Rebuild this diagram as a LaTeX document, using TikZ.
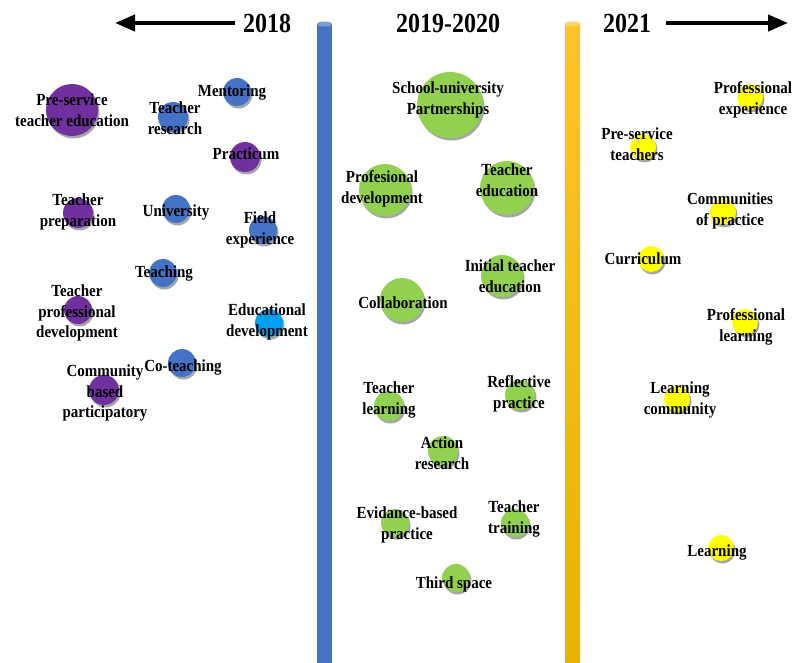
\documentclass[tikz,border=0pt]{standalone}
\usepackage{fontspec}
\usepackage{graphicx}
\setmainfont{Liberation Serif}
\usetikzlibrary{arrows.meta,shadows}
\definecolor{cpurple}{RGB}{112,48,160}
\definecolor{cblue}{RGB}{68,114,196}
\definecolor{clblue}{RGB}{0,160,240}
\definecolor{cgreen}{RGB}{146,208,80}
\definecolor{cyellow}{RGB}{255,255,0}
\definecolor{cbarblue}{RGB}{68,114,196}
\definecolor{cbaryeltop}{RGB}{255,196,40}
\definecolor{cbaryelbot}{RGB}{230,180,0}
\newcommand\labfont{\bfseries\fontsize{15}{18.3}\selectfont}
\newcommand\hdrfont{\bfseries\fontsize{24}{28}\selectfont}
\newcommand\stxt[1]{\scalebox{1}[1.13]{\begin{tabular}{@{}c@{}}#1\end{tabular}}}
\begin{document}
\begin{tikzpicture}[x=1pt,y=-1pt,
  bub/.style={circle,inner sep=0pt,minimum size=#1,
    drop shadow={shadow xshift=1.5pt,shadow yshift=-2.5pt,opacity=0.35,fill=black}},
  pur/.style={bub=#1,fill=cpurple},
  blu/.style={bub=#1,fill=cblue},
  lbl/.style={bub=#1,fill=clblue},
  grn/.style={bub=#1,fill=cgreen},
  yel/.style={bub=#1,fill=cyellow},
  lab/.style={font=\labfont,inner sep=0pt,text=black,yshift=-2pt},
  hdr/.style={font=\hdrfont,inner sep=0pt},
  arr/.style={line width=4pt,-{Triangle[length=20pt,width=16pt]}}]
\fill[white] (0,0) rectangle (798,663);
% bars
\fill[cbarblue] (317,24) rectangle (332,663);
\fill[cbarblue!70!white] (324.5,24) ellipse [x radius=7.5pt, y radius=2.5pt];
\shade[top color=cbaryeltop,bottom color=cbaryelbot] (565,24) rectangle (580,663);
\fill[cbaryeltop!70!white] (572.5,24) ellipse [x radius=7.5pt, y radius=2.5pt];
% headers
\node[hdr] (h1) at (267,23) {\scalebox{1}[1.15]{2018}};
\node[hdr] (h2) at (448,23) {\scalebox{1}[1.15]{2019-2020}};
\node[hdr] (h3) at (627,23) {\scalebox{1}[1.15]{2021}};
\coordinate (la) at (235,23);
\coordinate (lb) at (115,23);
\coordinate (ra) at (666,23);
\coordinate (rb) at (788,23);
\draw[arr] (la) -- (lb);
\draw[arr] (ra) -- (rb);
% 2018 circles
\node[pur=52pt] (c1) at (72,110) {};
\node[blu=30pt] (c2) at (173,117) {};
\node[blu=28pt] (c3) at (237,92) {};
\node[pur=30pt] (c4) at (245,157) {};
\node[pur=30pt] (c5) at (78,213) {};
\node[blu=28pt] (c6) at (176,209) {};
\node[blu=28pt] (c7) at (263,230) {};
\node[blu=28pt] (c8) at (163,273) {};
\node[pur=28pt] (c9) at (78,310) {};
\node[lbl=28pt] (c10) at (269,323) {};
\node[blu=28pt] (c11) at (182,363) {};
\node[pur=30pt] (c12) at (104,390) {};
% 2019-2020 circles
\node[grn=66pt] (c13) at (450,105) {};
\node[grn=52pt] (c14) at (385,190) {};
\node[grn=54pt] (c15) at (507,188) {};
\node[grn=42pt] (c16) at (502,276) {};
\node[grn=44pt] (c17) at (402,300) {};
\node[grn=30pt] (c18) at (389,406) {};
\node[grn=30pt] (c19) at (520,395) {};
\node[grn=30pt] (c20) at (443,451) {};
\node[grn=28pt] (c21) at (395,523) {};
\node[grn=28pt] (c22) at (515,523) {};
\node[grn=28pt] (c23) at (456,578) {};
% 2021 circles
\node[yel=26pt] (c24) at (750,97) {};
\node[yel=26pt] (c25) at (643,147) {};
\node[yel=26pt] (c26) at (723,212) {};
\node[yel=26pt] (c27) at (651,259) {};
\node[yel=26pt] (c28) at (745,322) {};
\node[yel=26pt] (c29) at (677,399) {};
\node[yel=26pt] (c30) at (721,548) {};
% labels 2018
\node[lab] (t1) at (72,110) {\stxt{Pre-service\\teacher education}};
\node[lab] (t2) at (175,118) {\stxt{Teacher\\research}};
\node[lab] (t3) at (232,90) {\stxt{Mentoring}};
\node[lab] (t4) at (246,153) {\stxt{Practicum}};
\node[lab] (t5) at (78,210) {\stxt{Teacher\\preparation}};
\node[lab] (t6) at (176,210) {\stxt{University}};
\node[lab] (t7) at (260,228) {\stxt{Field\\experience}};
\node[lab] (t8) at (164,271) {\stxt{Teaching}};
\node[lab] (t9) at (77,311) {\stxt{Teacher\\professional\\development}};
\node[lab] (t10) at (267,320) {\stxt{Educational\\development}};
\node[lab] (t11) at (183,365) {\stxt{Co-teaching}};
\node[lab] (t12) at (105,391) {\stxt{Community\\based\\participatory}};
% labels 2019-2020
\node[lab] (t13) at (448,98) {\stxt{School-university\\Partnerships}};
\node[lab] (t14) at (382,187) {\stxt{Profesional\\development}};
\node[lab] (t15) at (507,180) {\stxt{Teacher\\education}};
\node[lab] (t16) at (510,276) {\stxt{Initial teacher\\education}};
\node[lab] (t17) at (403,302) {\stxt{Collaboration}};
\node[lab] (t18) at (389,398) {\stxt{Teacher\\learning}};
\node[lab] (t19) at (519,392) {\stxt{Reflective\\practice}};
\node[lab] (t20) at (442,453) {\stxt{Action\\research}};
\node[lab] (t21) at (407,523) {\stxt{Evidance-based\\practice}};
\node[lab] (t22) at (514,517) {\stxt{Teacher\\training}};
\node[lab] (t23) at (454,582) {\stxt{Third space}};
% labels 2021
\node[lab] (t24) at (753,98) {\stxt{Professional\\experience}};
\node[lab] (t25) at (637,144) {\stxt{Pre-service\\teachers}};
\node[lab] (t26) at (730,209) {\stxt{Communities\\of practice}};
\node[lab] (t27) at (643,258) {\stxt{Curriculum}};
\node[lab] (t28) at (746,325) {\stxt{Professional\\learning}};
\node[lab] (t29) at (680,398) {\stxt{Learning\\community}};
\node[lab] (t30) at (717,550) {\stxt{Learning}};
\end{tikzpicture}
\end{document}
